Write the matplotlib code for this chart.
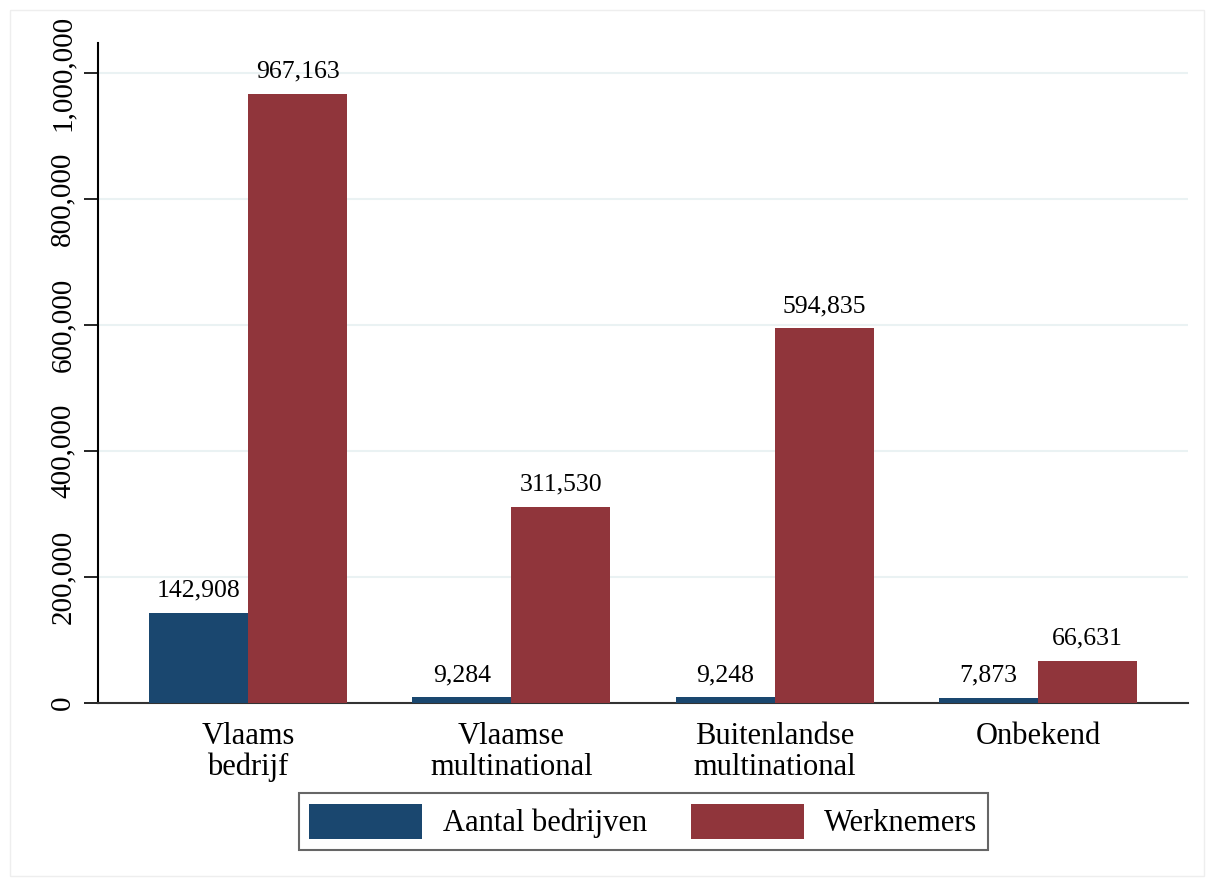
import numpy as np
import matplotlib.pyplot as plt
from matplotlib.patches import Rectangle

plt.rcParams['font.family'] = ['Liberation Serif', 'DejaVu Serif']
plt.rcParams['font.size'] = 20

categories = ['Vlaams\nbedrijf', 'Vlaamse\nmultinational', 'Buitenlandse\nmultinational', 'Onbekend']
bedrijven = [142908, 9284, 9248, 7873]
werknemers = [967163, 311530, 594835, 66631]
yticks = [0, 200000, 400000, 600000, 800000, 1000000]

blue = '#1a476f'
red = '#90353b'

fig = plt.figure(figsize=(12.14, 8.83), dpi=100)
fig.patches.append(Rectangle((0.008, 0.008), 0.984, 0.981, transform=fig.transFigure,
                             fill=False, edgecolor='#eeeeee', linewidth=1))
ax = fig.add_axes([0.0807, 0.2039, 0.8979, 0.7474])

x = np.arange(len(categories))
w = 0.376
b1 = ax.bar(x - w / 2, bedrijven, w, color=blue, label='Aantal bedrijven', zorder=3)
b2 = ax.bar(x + w / 2, werknemers, w, color=red, label='Werknemers', zorder=3)

for bars, vals in [(b1, bedrijven), (b2, werknemers)]:
    for r, v in zip(bars, vals):
        ax.annotate(f'{v:,}', (r.get_x() + r.get_width() / 2, v), xytext=(0, 8),
                    textcoords='offset points', ha='center', va='bottom', fontsize=18.5)

ax.set_xlim(-0.57, 3.57)
ax.set_ylim(0, 1047619)
ax.set_yticks(yticks)
ax.set_yticklabels([f'{t:,}' for t in yticks], rotation=90, va='center', fontsize=21)
ax.set_xticks(x)
ax.set_xticklabels(categories, fontsize=22, linespacing=1.05)
ax.tick_params(axis='x', length=0, pad=14)
ax.tick_params(axis='y', length=10, width=1.2, pad=6)

ax.grid(axis='y', color='#eaf2f3', linewidth=1.5, zorder=0)
ax.spines['top'].set_visible(False)
ax.spines['right'].set_visible(False)
ax.spines['left'].set_linewidth(1.5)
ax.spines['bottom'].set_linewidth(1.5)
ax.spines['bottom'].set_color('#333333')

leg = fig.legend(loc='center', bbox_to_anchor=(0.530, 0.070), ncol=2, fontsize=22,
                 frameon=True, fancybox=False, edgecolor='#404040',
                 handlelength=3.7, handleheight=1.4, columnspacing=1.45, handletextpad=0.66,
                 borderpad=0.35, borderaxespad=0)
leg.get_frame().set_linewidth(1.5)

plt.savefig('out.png', dpi=100)
